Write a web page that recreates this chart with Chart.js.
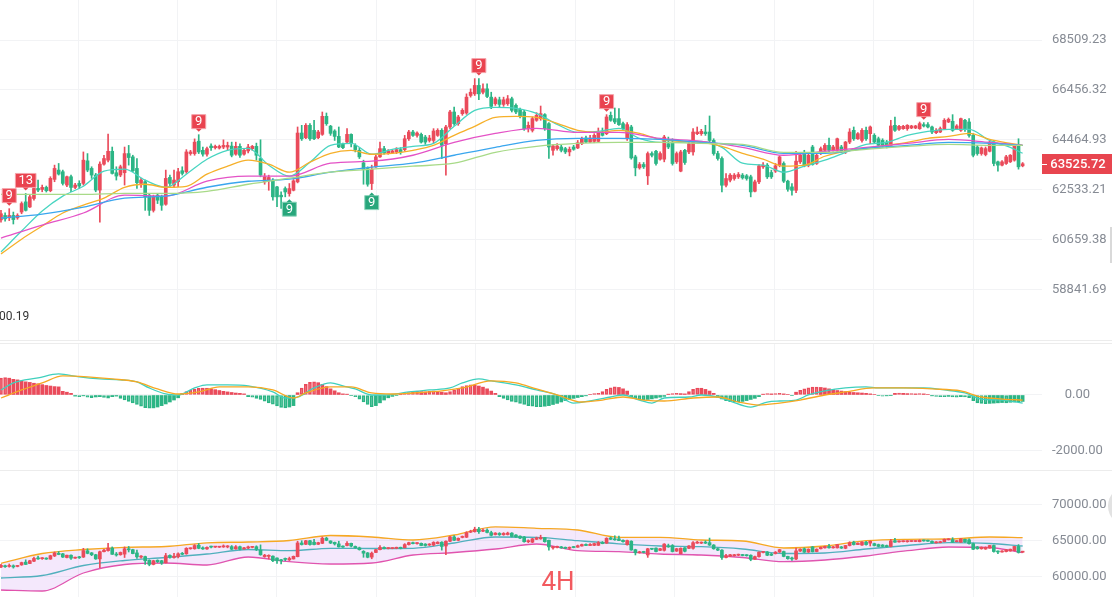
<!DOCTYPE html>
<html lang="en">
<head>
<meta charset="UTF-8">
<title>BTC 4H</title>
<script src="https://cdn.jsdelivr.net/npm/chart.js"></script>
<style>
  html, body { margin: 0; padding: 0; background: #fff; }
  body { width: 1112px; height: 597px; position: relative; overflow: hidden; }
  canvas { position: absolute; left: 0; }
  #priceChart { top: 0; }
  #macdChart { top: 343px; }
  #bollChart { top: 470px; }
</style>
</head>
<body>
<canvas id="priceChart" width="1112" height="341"></canvas>
<canvas id="macdChart" width="1112" height="127"></canvas>
<canvas id="bollChart" width="1112" height="127"></canvas>
<script>
// 4H candles
const opens = [
  61388,61554,61465,61554,61465,61682,62066,61874,62194,62578,
  62540,62616,62490,62924,63282,63218,62706,63026,62616,62770,
  62770,63640,63346,63090,62514,63512,63666,64012,63180,63090,
  63180,63922,63794,63346,62770,62834,62322,61746,62322,62258,
  61976,63000,62706,62834,63256,63218,63922,63922,64408,64050,
  63900,64216,64152,64140,64178,64178,64216,63900,64204,63900,
  64025,64114,64204,63729,62829,62867,62893,62636,62319,62571,
  62382,62507,62829,64729,64543,65034,64835,64543,64676,65393,
  65000,64809,64596,64283,64373,64676,64244,64051,63562,63343,
  62764,63408,63794,64115,63948,63948,63987,64077,64077,64504,
  64769,64636,64676,64570,64437,64437,64636,64835,64308,64968,
  65565,65101,65499,65525,66229,66295,66637,66361,66498,66162,
  65897,66056,65870,65897,66096,65831,65672,65565,64902,64835,
  65234,65300,65459,65101,64051,64116,64180,64116,63987,64180,
  64142,64309,64530,64373,64400,64400,64769,64703,65433,65300,
  65300,65101,64504,64968,63794,63369,63498,63060,63923,64013,
  63704,63704,64309,64373,63601,63241,64051,63987,63987,64703,
  64703,64769,64769,64437,63923,63730,62700,62893,62957,63022,
  63086,63060,63022,62469,62829,63408,63473,63189,63241,63472,
  63537,62855,62636,62506,63601,63923,63472,64180,63537,63923,
  64051,64245,64051,64051,64180,63987,64373,64836,64504,64438,
  64836,64703,64637,64504,64438,64373,64245,65035,64875,64902,
  64902,64929,64929,64902,65061,65061,64968,64743,64769,64902,
  65167,65194,64902,64836,65234,65167,64637,64180,63923,63884,
  64013,64373,63601,63472,63537,63601,63665,64245,63447
];
const highs = [
  61746,61650,61810,61682,61618,62066,62386,62322,62770,62898,
  62706,62668,63026,63474,63538,63282,63052,63090,62770,62872,
  63986,63922,63410,63154,63602,63858,64690,64178,63410,63474,
  64178,64242,63858,63730,62962,62898,62386,62322,62386,62322,
  63282,63090,63282,63346,63410,64076,64050,64498,64664,64178,
  64178,64306,64255,64255,64460,64370,64370,64370,64306,64114,
  64280,64242,64332,64463,63150,63086,62957,62661,62444,62636,
  62764,62919,64968,65034,65101,65101,65233,64835,65565,65525,
  65034,64860,64968,64334,64902,64700,64308,64154,63665,63408,
  63472,63858,64373,64205,64077,64060,64154,64154,64636,64835,
  64835,64780,64729,64636,64636,64902,64900,64902,65034,65632,
  65764,65433,65698,66295,66498,66914,66914,66706,66706,66361,
  66162,66162,66162,66229,66162,65897,65725,65632,65167,65366,
  65539,65804,65499,65141,64270,64309,64245,64167,64180,64245,
  64437,64570,64610,64637,64703,64928,64928,65459,65565,65725,
  65698,65167,65141,65035,63858,63575,63575,63987,63987,64051,
  63987,64637,64570,64504,63987,64051,64090,64373,64902,64968,
  64875,65035,65406,64504,64013,63794,63150,63150,63150,63189,
  63150,63112,63086,62893,63498,63575,63537,63279,63537,63833,
  63601,62893,62764,64013,63923,64051,63923,64245,63923,64180,
  64309,64530,64245,64530,64245,64399,64902,64968,64743,64902,
  64968,65008,64703,64570,64504,64438,65234,65366,65035,65035,
  65061,65035,65035,65167,65141,65141,65008,64902,64968,65300,
  65327,65459,65061,65327,65274,65300,64703,64245,64180,64180,
  64399,64438,63627,63652,63858,63884,64270,64504,63575
];
const lows = [
  61298,61336,61362,61234,61410,61618,61720,61850,62130,62450,
  62450,62440,62450,62834,63090,62706,62642,62450,62565,62578,
  62706,63218,62962,62450,61298,63474,63602,63128,62898,63026,
  62706,63474,63218,62578,62616,61746,61554,61682,62002,61746,
  61938,62616,62616,62642,63090,63154,63858,63858,63922,63820,
  63820,64050,64100,64100,64114,64050,63794,63858,63768,63858,
  63950,64050,63666,63022,62738,62507,62132,61882,61819,62257,
  62282,62482,62790,64437,64504,64437,64463,64504,64636,65034,
  64636,64437,64154,64115,64308,64180,63987,63729,62738,62661,
  62532,63382,63768,63897,63897,63920,63922,63897,64025,64437,
  64596,64570,64334,64283,64373,64334,64596,63729,63086,64902,
  65034,65034,65433,65472,66162,66229,66056,66295,66136,65698,
  65830,65764,65791,65830,65565,65499,65327,64835,64769,64769,
  65194,65234,64835,63730,63858,64051,63987,63923,63833,64051,
  64116,64270,64347,64347,64347,64373,64610,64663,65194,65101,
  65035,64835,64437,63704,63060,63318,63344,62726,63794,63473,
  63665,63601,64116,63473,63537,63215,63498,63923,63858,64663,
  64637,64637,64373,63858,63665,62444,62636,62829,62893,62957,
  62932,62893,62256,62444,62764,63344,62957,62958,63189,63408,
  62803,62469,62319,62419,63537,63408,63408,63472,63498,63884,
  64013,63987,64013,64013,63960,63923,64309,64438,64477,64373,
  64438,64309,64309,64180,64180,64142,64180,64796,64836,64875,
  64836,64902,64902,64875,64968,64929,64703,64703,64743,64875,
  65141,64796,64875,64796,64796,64570,63794,63858,63858,63833,
  63987,63447,63241,63447,63498,63575,63627,63318,63408
];
const closes = [
  61618,61426,61554,61400,61554,62002,61746,62258,62578,62514,
  62616,62490,62962,63346,63128,62770,63026,62616,62706,62668,
  63666,63282,63090,62514,63512,63730,64012,63154,63052,63410,
  63922,63768,63256,62796,62898,62258,61746,62258,62130,61938,
  62962,62770,62898,63218,63154,63986,63986,64370,63986,63900,
  64114,64152,64204,64204,64242,64242,63858,64204,63858,64050,
  64178,64204,63858,63086,63022,62996,62257,62257,62257,62444,
  62571,62867,64729,64504,65034,64504,64504,64769,65393,65101,
  64716,64596,64180,64154,64676,64308,64077,63794,63305,62738,
  63305,63794,64115,63948,64025,64025,64077,63987,64504,64769,
  64636,64729,64373,64373,64530,64809,64835,64244,64968,65565,
  65101,65366,65632,66162,66361,66637,66295,66498,66189,65791,
  66096,65870,66056,66096,65632,65565,65406,64902,65035,65300,
  65433,65499,64902,64180,64219,64219,64051,63987,64090,64090,
  64347,64504,64373,64530,64637,64769,64637,65366,65234,65167,
  65061,64902,65061,63755,63369,63498,63408,63923,63858,63537,
  63923,64570,64180,63537,63923,63987,63575,64309,64769,64769,
  64796,64703,64437,63923,63730,62700,62957,63086,63086,63112,
  62983,62957,62444,62829,63447,63473,63022,63022,63447,63794,
  62855,62546,62506,63627,63858,63447,63858,63498,63858,64116,
  64245,64051,64180,64504,64013,64373,64769,64504,64703,64836,
  64504,64968,64373,64245,64245,64219,65008,64836,64995,64995,
  65035,65008,65008,65101,65008,64968,64769,64836,64902,65234,
  65274,64836,65008,65300,64902,64637,63858,63923,64142,64116,
  64373,63537,63472,63601,63794,63858,64245,63408,63525.72
];

// moving averages, sampled every 5 candles (fast) and 10 candles (slow)
const maFastIdx = [0,5,10,15,20,25,30,35,40,45,50,55,60,65,70,75,80,85,90,95,100,105,110,115,120,125,
  130,135,140,145,150,155,160,165,170,175,180,185,190,195,200,205,210,215,220,225,230,235,240,245,248];
const maTeal = [
  60200,60970,61720,62283,62660,63239,63316,62892,62622,63124,
  63703,64050,64127,63471,63046,63587,64243,64320,63896,64089,
  64204,64320,64994,65631,65750,65711,65512,65074,64756,64795,
  64915,64517,64361,64361,64400,64166,63548,63471,63200,63432,
  63664,63973,64282,64361,64636,64795,64875,64875,64438,64166,63935
];
const maOrange = [
  60127,60670,61158,61646,61946,62208,62622,62738,62622,62660,
  63124,63432,63664,63510,63200,63587,63934,64050,63896,63934,
  64050,64243,64636,64994,65352,65392,65352,65113,64835,64756,
  64835,64716,64477,64400,64361,64204,63934,63703,63432,63471,
  63818,64011,64127,64243,64361,64517,64596,64716,64477,64320,64243
];
const maSlowIdx = [0,10,20,30,40,50,60,70,80,90,100,110,120,130,140,150,160,170,180,190,200,210,220,230,240,248];
const maMagenta = [
  60708,61195,61646,62320,62283,62853,63046,63046,63548,63625,
  63857,64361,64716,64915,64756,64756,64517,64400,64166,63857,
  64011,64166,64320,64477,64361,64243
];
const maBlue = [
  61458,61608,61871,62208,62283,62622,62853,62931,63200,63394,
  63548,63857,64166,64438,64517,64517,64477,64361,64243,63934,
  63934,64127,64243,64361,64320,64243
];
const maLime = [
  62352,62352,62352,62390,62390,62467,62737,62969,63200,63316,
  63432,63548,63973,64204,64320,64361,64361,64320,64282,63973,
  63973,64089,64204,64282,64243,64243
];

const priceTicks = [58841.69, 60659.38, 62533.21, 64464.93, 66456.32, 68509.23];
const lastPrice = 63525.72;

// sequential count marks
const tdMarks = [
  { i: 2, label: '9', side: 'high' },
  { i: 6, label: '13', side: 'high' },
  { i: 48, label: '9', side: 'high' },
  { i: 70, label: '9', side: 'low' },
  { i: 90, label: '9', side: 'low' },
  { i: 116, label: '9', side: 'high' },
  { i: 147, label: '9', side: 'high' },
  { i: 224, label: '9', side: 'high' }
];

// MACD
const difIdx = [0,3,9,14,19,24,29,33,36,40,43,47,50,55,60,66,69,72,76,80,83,86,90,93,99,104,109,112,116,119,
  125,130,135,139,144,148,151,155,158,161,167,170,174,177,182,186,189,193,196,200,205,210,213,219,224,229,234,238,243,248];
const difVals = [180,430,610,754,646,574,538,467,251,36,0,251,359,359,323,108,-108,-72,251,431,
  323,215,0,0,108,180,251,431,574,503,359,180,0,-287,-180,-72,0,-180,-287,-108,
  -72,0,-72,-215,-431,-251,-215,-180,0,144,251,287,251,251,251,180,72,-144,-180,-287];
const deaIdx = [0,5,10,15,21,27,33,38,43,48,53,60,66,71,74,80,85,90,95,100,107,112,119,125,130,135,141,146,151,156,
  161,168,174,179,184,189,194,200,205,212,219,226,233,238,243,248];
const deaVals = [-108,180,430,682,646,574,467,215,36,108,287,287,180,-108,72,287,287,72,36,72,
  144,251,503,430,215,0,-251,-180,-72,-180,-215,-108,-72,-251,-359,-287,-180,0,108,251,
  251,215,144,-72,-144,-180];
const macdHist = [
  600,620,600,560,540,500,
  470,450,420,400,370,340,320,300,290,
  130,100,60,
  -40,-60,-30,-80,-100,-70,-60,-90,-110,-60,-40,
  -120,-180,-230,-280,-340,-400,-450,-470,-460,-430,-380,-320,-250,-180,-100,
  60,120,170,210,240,250,240,220,190,160,130,110,90,70,60,40,
  -60,-80,-120,-160,-220,-280,-330,-390,-440,-460,-430,-380,
  80,
  250,380,450,470,440,380,300,220,150,
  80,40,30,-20,-60,
  -150,-250,-340,-420,-380,-280,-180,
  -100,-50,-20,10,
  50,90,120,140,120,110,130,150,120,100,80,120,180,
  240,300,340,360,350,320,280,220,
  140,60,
  -60,-120,-180,-230,-260,-300,-340,-380,-400,-420,-420,-400,-380,-340,-300,-250,
  -200,-160,-120,-90,-60,-30,
  20,50,60,
  120,200,260,290,270,220,140,
  -80,-140,-180,-180,-160,-140,-110,-80,-50,
  30,50,60,50,40,
  120,200,250,240,200,140,60,
  -80,-150,-200,-240,-250,-250,-230,-200,-160,-120,-60,
  30,50,40,50,60,40,20,-20,
  100,170,220,260,280,280,270,250,220,190,160,
  140,120,100,90,80,70,60,40,20,
  -20,-40,-30,-10,
  60,70,60,50,50,40,50,40,20,
  -30,-50,-60,-60,-50,-70,-80,-60,-70,-100,
  -200,-280,-300,-310,-300,-290,-280,-270,-280,-260,-250,-240,-230
];
const macdTicks = [-2000, 0];

// Bollinger bands, sampled every 10 candles
const bollIdx = [0,10,20,30,40,50,60,70,80,90,100,110,120,130,140,150,160,170,180,190,200,210,220,230,240,248];
const bollUpper = [61903,63264,63819,64125,64236,64750,64861,65069,65764,65556,65139,65833,66972,66764,66528,65514,65514,65139,65000,64028,64306,65042,65236,65278,65556,65458];
const bollMid = [59861,60208,61597,62292,62708,63194,63819,63653,63986,63958,63986,64722,65556,65514,65042,64611,64306,64208,63889,63264,63333,63889,64375,64764,64653,64306];
const bollLower = [58194,58056,60555,61736,61944,61667,62778,62125,61806,61944,63055,63403,63889,64583,63653,63514,63194,63055,62708,62125,62361,62917,63653,64167,64097,63375];
const bollTicks = [60000, 65000, 70000];

// ---- styling ----
const FONT = 'Roboto, "Noto Sans", Arial, sans-serif';
const GRID = '#f2f3f5';
const UP = '#ea4b5b';
const DOWN = '#2cb585';
const LABEL = '#868b94';
const X_MIN = -0.24, X_MAX = 252.7;
const GRID_START = 18.7, GRID_STEP = 24.15;

const candleIdx = closes.map((_, i) => i);
const pts = (idx, vals) => idx.map((x, k) => ({ x, y: vals[k] }));
const candleColor = i => closes[i] >= opens[i] ? UP : DOWN;

function timeAxis() {
  return {
    type: 'linear', min: X_MIN, max: X_MAX, offset: false,
    afterBuildTicks: s => {
      const t = [];
      for (let v = GRID_START; v < X_MAX; v += GRID_STEP) t.push({ value: v });
      s.ticks = t;
    },
    ticks: { display: false },
    grid: { color: GRID, drawTicks: false, offset: false },
    border: { display: false },
    afterFit: s => { s.height = 0; }
  };
}

function valueAxis(type, min, max, tickList) {
  return {
    type, min, max, position: 'right',
    afterBuildTicks: s => { s.ticks = tickList.map(v => ({ value: v })); },
    afterFit: s => { s.width = 70; s.paddingTop = 0; s.paddingBottom = 0; },
    ticks: {
      color: LABEL, font: { family: FONT, size: 13 }, padding: 10, crossAlign: 'center',
      maxRotation: 0, autoSkip: false,
      callback: v => Number(v).toFixed(2)
    },
    grid: { color: GRID, drawTicks: false },
    border: { display: false }
  };
}

function candleSets() {
  return [
    {
      type: 'bar', order: 3, grouped: false, barThickness: 1,
      data: candleIdx.map(i => ({ x: i, y: [lows[i], highs[i]] })),
      backgroundColor: c => candleColor(c.dataIndex)
    },
    {
      type: 'bar', order: 2, grouped: false, barThickness: 3, minBarLength: 1,
      data: candleIdx.map(i => ({ x: i, y: [opens[i], closes[i]] })),
      backgroundColor: c => candleColor(c.dataIndex)
    }
  ];
}

function line(data, color, extra) {
  return Object.assign({
    type: 'line', data, borderColor: color, borderWidth: 1.3, pointRadius: 0,
    cubicInterpolationMode: 'monotone', fill: false, order: 1
  }, extra || {});
}

const baseOptions = {
  responsive: false, animation: false, events: [],
  layout: { padding: 0, autoPadding: false },
  plugins: { legend: { display: false }, tooltip: { enabled: false } }
};

// ---- main price panel ----
const mainDecor = {
  id: 'mainDecor',
  afterDatasetsDraw(chart) {
    const { ctx, scales: { x, y } } = chart;
    ctx.save();
    ctx.font = '13px ' + FONT;
    tdMarks.forEach(m => {
      const px = x.getPixelForValue(m.i);
      const w = Math.max(14, ctx.measureText(m.label).width + 6);
      const h = 14;
      const isHigh = m.side === 'high';
      const fill = isHigh ? '#e9434f' : '#27a67b';
      const edge = isHigh ? '#f5a3aa' : '#8fd6bd';
      let tip, top;
      if (isHigh) { tip = y.getPixelForValue(highs[m.i]) - 3; top = tip - 3 - h; }
      else { tip = y.getPixelForValue(lows[m.i]) + 3; top = tip + 3; }
      ctx.fillStyle = fill;
      ctx.strokeStyle = edge;
      ctx.lineWidth = 1;
      ctx.beginPath();
      ctx.rect(px - w / 2, top, w, h);
      ctx.fill();
      ctx.stroke();
      ctx.beginPath();
      if (isHigh) { ctx.moveTo(px - 3, top + h); ctx.lineTo(px + 3, top + h); }
      else { ctx.moveTo(px - 3, top); ctx.lineTo(px + 3, top); }
      ctx.lineTo(px, tip);
      ctx.closePath();
      ctx.fill();
      ctx.fillStyle = '#fff';
      ctx.textAlign = 'center';
      ctx.textBaseline = 'middle';
      ctx.fillText(m.label, px, top + h / 2 + 0.5);
    });
    ctx.restore();
  },
  afterDraw(chart) {
    const { ctx, chartArea, scales: { y } } = chart;
    ctx.save();
    // last price tag
    const py = Math.round(y.getPixelForValue(lastPrice));
    ctx.fillStyle = '#e8454f';
    ctx.fillRect(chartArea.right, py - 10, 70, 20);
    ctx.fillStyle = '#fff';
    ctx.fillRect(chartArea.right, py, 5, 1);
    ctx.font = '500 13px ' + FONT;
    ctx.textAlign = 'center';
    ctx.textBaseline = 'middle';
    ctx.fillText(lastPrice.toFixed(2), chartArea.right + 36, py + 0.5);
    // truncated legend value
    ctx.fillStyle = '#333';
    ctx.textAlign = 'left';
    ctx.font = '12px ' + FONT;
    ctx.fillText('00.19', -1, 317);
    // panel border and scroll handle
    ctx.fillStyle = '#ececec';
    ctx.fillRect(0, chart.height - 1, chart.width, 1);
    ctx.fillStyle = '#d9d9d9';
    ctx.fillRect(1110, 227, 2, 36);
    ctx.restore();
  }
};

new Chart(document.getElementById('priceChart'), {
  type: 'bar',
  data: {
    datasets: [
      ...candleSets(),
      line(pts(maSlowIdx, maLime), '#a8da88'),
      line(pts(maSlowIdx, maBlue), '#3aa6ee'),
      line(pts(maSlowIdx, maMagenta), '#e452c6'),
      line(pts(maFastIdx, maOrange), '#f6b02a'),
      line(pts(maFastIdx, maTeal), '#48d5c1')
    ]
  },
  options: Object.assign({}, baseOptions, {
    scales: {
      x: timeAxis(),
      y: valueAxis('logarithmic', 57015, 70202, priceTicks)
    }
  }),
  plugins: [mainDecor]
});

// ---- MACD panel ----
// bars whose size is still growing are drawn light with an outline
function histStyle(i) {
  const v = macdHist[i];
  const p = i > 0 ? macdHist[i - 1] : 0;
  const hollow = Math.abs(v) >= Math.abs(p) && (v >= 0) === (p >= 0);
  return { col: v >= 0 ? UP : DOWN, hollow };
}

const topBorder = {
  id: 'topBorder',
  afterDraw(chart) {
    const { ctx } = chart;
    ctx.save();
    ctx.fillStyle = '#ececec';
    ctx.fillRect(0, 0, chart.width, 1);
    ctx.restore();
  }
};

new Chart(document.getElementById('macdChart'), {
  type: 'bar',
  data: {
    datasets: [
      {
        type: 'bar', order: 2, grouped: false, barThickness: 3,
        data: candleIdx.map(i => ({ x: i, y: macdHist[i] })),
        backgroundColor: c => {
          const s = histStyle(c.dataIndex);
          if (!s.hollow) return s.col;
          return s.col === UP ? 'rgba(234,75,91,0.4)' : 'rgba(44,181,133,0.4)';
        },
        borderColor: c => histStyle(c.dataIndex).col,
        borderWidth: c => histStyle(c.dataIndex).hollow ? 1 : 0,
        borderSkipped: false
      },
      line(pts(deaIdx, deaVals), '#f6a823'),
      line(pts(difIdx, difVals), '#3fd0bd')
    ]
  },
  options: Object.assign({}, baseOptions, {
    scales: {
      x: timeAxis(),
      y: valueAxis('linear', -2679, 1857, macdTicks)
    }
  }),
  plugins: [topBorder]
});

// ---- Bollinger panel ----
const bollDecor = {
  id: 'bollDecor',
  afterDraw(chart) {
    const { ctx } = chart;
    ctx.save();
    ctx.fillStyle = '#ececec';
    ctx.fillRect(0, 0, chart.width, 1);
    ctx.fillStyle = '#f25a5f';
    ctx.font = '26px ' + FONT;
    ctx.textAlign = 'center';
    ctx.textBaseline = 'middle';
    ctx.fillText('4H', 558, 113);
    ctx.fillStyle = '#e2e2e2';
    ctx.beginPath();
    ctx.arc(1128, 36, 20, 0, Math.PI * 2);
    ctx.fill();
    ctx.restore();
  }
};

new Chart(document.getElementById('bollChart'), {
  type: 'bar',
  data: {
    datasets: [
      line(pts(bollIdx, bollUpper), '#f6a823', { order: 4, fill: '+2', backgroundColor: 'rgba(200,140,240,0.2)' }),
      line(pts(bollIdx, bollMid), '#33b9b1', { order: 4 }),
      line(pts(bollIdx, bollLower), '#e34fa8', { order: 4 }),
      ...candleSets()
    ]
  },
  options: Object.assign({}, baseOptions, {
    scales: {
      x: timeAxis(),
      y: valueAxis('linear', 57222, 74861, bollTicks)
    }
  }),
  plugins: [bollDecor]
});
</script>
</body>
</html>
